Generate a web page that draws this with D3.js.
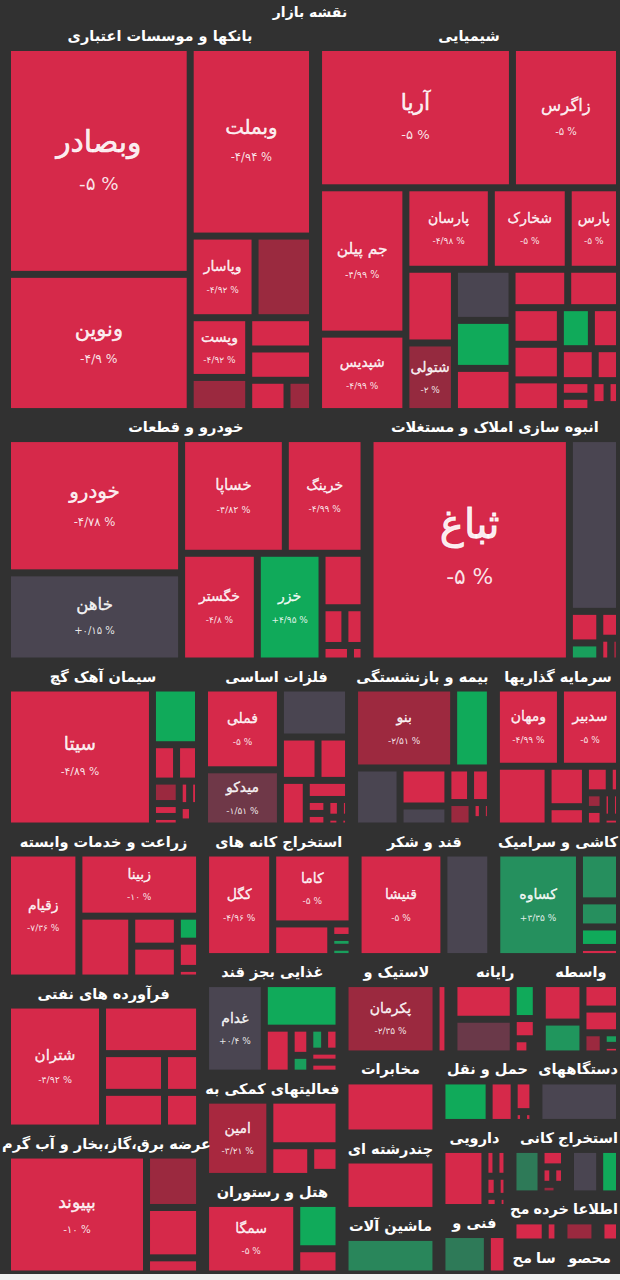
<!DOCTYPE html>
<html><head><meta charset="utf-8">
<script src="https://cdn.jsdelivr.net/npm/d3@7"></script>
<style>
html,body{margin:0;padding:0;background:#313131;}
svg{display:block;}
</style></head><body>
<svg id="chart" width="620" height="1280"></svg>
<script>
// ---------- DATA (name, change %, size) ----------
const title = "نقشه بازار";
const banks = [["وبصادر",-5,415],["ونوین",-4.9,251],["وبملت",-4.94,231],["وپاسار",-4.92,53],[null,-2.3,47],["وپست",-4.92,35],[null,-2.4,20],[null,-4.9,20],[null,-4.9,20],[null,-4.9,12],[null,-2.4,8]];
const chem = [["آریا",-5,273.5],["زاگرس",-5,151],["جم پیلن",-4.99,128.5],["شپدیس",-4.99,68],["پارسان",-4.98,70],["شخارک",-5,63],["پارس",-5,42],[null,-4.9,36],["شتولی",-2,33.5],[null,0.1,29.6],[null,4.9,27.8],[null,-4.9,25],[null,-4.9,21.5],[null,-4.9,20],[null,-4.9,17.8],[null,-4.9,17.3],[null,-4.9,15.4],[null,4.9,12.8],[null,-4.9,11.6],[null,-4.9,11.2],[null,-4.9,7.8],[null,-4.9,4.8],[null,-4.9,4.7],[null,-4.9,3.9],[null,-4.9,3],[null,-4.9,2]];
const khodro = [["خودرو",-4.78,233],["خاهن",0.15,153],["خساپا",-4.82,118.6],["خرینگ",-4.99,90],["خگستر",-4.8,81.3],["خزر",4.95,69.5],[null,-4.9,22.8],[null,-4.9,8.6],[null,-4.9,7.2],[null,-4.9,4.4],[null,-4.9,2.1]];
const omran = [["ثباغ",-5,444],[null,0.2,86.7],[null,-4.9,9.6],[null,4,5.5],[null,-4.9,5.3],[null,-4.9,2.5],[null,-2.4,2]];
const cement = [["سیتا",-4.89,203],[null,4.9,26.5],[null,-4.9,8.9],[null,-4.9,8.1],[null,-2.4,6.1],[null,-4.9,3.5],[null,-4.9,2.6],[null,-4.9,2.6],[null,-4.9,2.2],[null,-4.9,2.2],[null,-4.9,1],[null,-4.9,0.8]];
const metals = [["فملی",-5,64.7],["میدکو",-1.51,44.5],[null,0.1,34.8],[null,-4.9,17],[null,-4.9,13.8],[null,-4.9,12.3],[null,-4.9,8.4],[null,-4.9,3],[null,-4.9,2.7],[null,-4.9,2.5],[null,-4.9,1.5],[null,-4.9,1.2],[null,-4.9,0.8]];
const insurance = [["بنو",-2.51,81],[null,4.9,30],[null,0.1,27],[null,-4.9,18.6],[null,0.1,9.8],[null,-4.9,8],[null,-4.9,7],[null,-2.4,5.8],[null,-4.9,1.8],[null,-4.9,1.4],[null,-4.9,1.2]];
const invest = [["ومهان",-4.99,51.4],["سدبیر",-5,47.4],[null,-4.9,31.7],[null,-4.9,15.5],[null,-4.9,7.4],[null,-4.9,6.5],[null,-4.9,2.8],[null,-2.4,3],[null,-4.9,3],[null,-4.9,2.1],[null,-4.9,2],[null,-4.9,1.5]];
const agri = [["زقیام",-7.36,91.4],["زبینا",-10,78],[null,-4.9,33.5],[null,-4.9,14],[null,-4.9,14.9],[null,4.9,5.7],[null,-4.9,6.2],[null,-4.9,2.2]];
const petro = [["شتران",-4.92,117.8],[null,-4.9,47.5],[null,-4.9,24.2],[null,-4.9,22.3],[null,-4.9,13.7],[null,-4.9,12.6]];
const utility = [["بپیوند",-10,164],[null,-2.4,27.6],[null,-4.9,26.5],[null,-4.9,8.5]];
const mining = [["کگل",-4.96,70],["کاما",-5,56.7],[null,-4.9,19.1],[null,-4.9,2.9],[null,4,2.1],[null,4,2]];
const sugar = [["قنیشا",-5,88.6],[null,-0.2,48.4]];
const tile = [["کساوه",3.35,84.5],[null,3.3,18.9],[null,3.3,10.3],[null,4.9,8.1],[null,-4.9,3.6]];
const food = [["غدام",0.4,54],[null,4.9,34.2],[null,-4.9,12.4],[null,-4.9,5.2],[null,4,3.4],[null,4,3.5],[null,-4.9,3.4],[null,-4.9,3.3],[null,-4.9,3.3]];
const support = [["امین",-3.21,50.8],[null,-4.9,32.7],[null,-4.9,13],[null,-4.9,7.8],[null,-4.9,0.6],[null,-4.9,0.6]];
const hotel = [["سمگا",-5,65.1],[null,4.9,19.4],[null,-4.9,10.8]];
const rubber = [["پکرمان",-2.35,64.4],[null,-4.9,8.4]];
const computer = [[null,-4.9,21.8],[null,-1.4,21.2],[null,4.9,8.3],[null,-4.9,4.8],[null,-4.9,2.6],[null,-4.9,1]];
const broker = [[null,-4.9,16.8],[null,3.6,13.9],[null,-4.9,10],[null,-4.9,9.3],[null,-2.4,4.6],[null,4,2.2],[null,-4.9,1.5]];
const telecom = [[null,-4.9,1]];
const multi = [[null,-4.9,1]];
const machinery = [[null,3,1]];
const transport = [[null,4.9,19.4],[null,-4.9,10.3],[null,-4.9,5.7],[null,-4.9,1],[null,-4.9,1]];
const devices = [[null,0,1]];
const pharma = [[null,-4.9,25.4],[null,-4.9,3],[null,-4.9,3],[null,-4.9,2.5],[null,-4.9,2],[null,-4.9,1.5],[null,-4.9,1]];
const engineering = [[null,2.6,17.6],[null,-4.9,7.6]];
const mineral = [[null,2.6,12.2],[null,-4.9,4],[null,-4.9,2],[null,-4.9,2],[null,-2.4,1.5],[null,4,0.7]];
const extraction = [[null,0,14],[null,4.9,9.5]];
const tinyA = [[null,-4.9,3.3],[null,-4.9,1.3]];
const tinyB = [[null,-2.4,1]];
const tinyC = [[null,-4.9,1]];
const tinyD = [[null,-4.9,1]];
const tinyE = [[null,-4.9,1]];
const tinyF = [[null,4,1]];

const sectorNames = ["بانکها و موسسات اعتباری","شیمیایی","خودرو و قطعات","انبوه سازی املاک و مستغلات","سیمان آهک گچ","فلزات اساسی","بیمه و بازنشستگی","سرمایه گذاریها","زراعت و خدمات وابسته","فرآورده های نفتی","عرضه برق،گاز،بخار و آب گرم","استخراج کانه های","قند و شکر","کاشی و سرامیک","غذایی بجز قند","فعالیتهای کمکی به","هتل و رستوران","لاستیک و","رایانه","واسطه","مخابرات","چندرشته ای","ماشین آلات","حمل و نقل","دستگاههای","دارویی","فنی و","کانی","استخراج","مح","خرده","اطلاعا","مح","سا","محصو"];
const sectorSizes = [1216,1200,904,637,325,247.5,234,213,301,297,289,199,181,168,162.5,144,136,106,86,81,76.6,75,61.6,66.4,59.3,60.4,47.2,41.1,39.3,24.5,17.8,11.8,8,7,21];
const sectorStocks = [banks,chem,khodro,omran,cement,metals,insurance,invest,agri,petro,utility,mining,sugar,tile,food,support,hotel,rubber,computer,broker,telecom,multi,machinery,transport,devices,pharma,engineering,mineral,extraction,tinyA,tinyB,tinyC,tinyD,tinyE,tinyF];

// ---------- LAYOUT ORDER (strip order: r = row, c = column, with item counts) ----------
const topStrips = ["r2","r2","r4","c3","r3","c3","r3","c3","r2","c2","r2","r3","r3"];
const sectorStrips = [
  ["c2","r1","r2","c2","r1","r1","r2"],
  ["r2","c2","r3","c2","c3","r2","c3","r2","r2"],
  ["c2","r2","c1","c1","r1","r2"],
  ["c1","r1","c2"],
  ["c1","r1","r2"],
  ["c2","r1","r2","c1","r1"],
  ["r2","c1","c2","r2"],
  ["r2","c1","c2","r2"],
  ["c1","r1","c1","c2","r1","r1","r1"],
  ["c1","r1","c2","c2"],
  ["c1","c3"],
  ["c1","r1","c1","r1","c2"],
  ["c1","c1"],
  ["c1","r1","r1","c2"],
  ["c1","r1","c1","c2","r2","r1","r1"],
  ["c1","r1","c1","r1"],
  ["c1","c2"],
  ["c1","c1"],
  ["c2","r1","r1","r2"],
  ["c2","r1","r1","c1","r1","r1"],
  [],[],[],
  ["c1","c1","r1"],
  [],
  ["c1"],
  ["c1","c1"],
  ["c1","r1"],
  ["c1","c1"],
  ["c1","c1"],[],[],[],[],[]
];

// ---------- HELPERS ----------
function stripTile(spec) {
  return (parent, x0, y0, x1, y1) => {
    const kids = parent.children;
    let value = parent.value, i = 0;
    for (const s of spec) {
      if (i >= kids.length) break;
      const dir = s[0], n = +s.slice(1);
      const group = kids.slice(i, i + n);
      const sum = d3.sum(group, d => d.value);
      const row = {children: group, value: sum};
      if (dir === "r") { const y = y0 + (y1 - y0) * sum / value; d3.treemapDice(row, x0, y0, x1, y); y0 = y; }
      else { const x = x0 + (x1 - x0) * sum / value; d3.treemapSlice(row, x0, y0, x, y1); x0 = x; }
      value -= sum; i += n;
    }
    if (i < kids.length) {
      const rest = kids.slice(i);
      d3.treemapSquarify({children: rest, value: d3.sum(rest, d => d.value)}, x0, y0, x1, y1);
    }
  };
}
const faDigits = "۰۱۲۳۴۵۶۷۸۹";
function fa(v) {
  const s = (Math.round(Math.abs(v) * 100) / 100).toString().replace(".", "/").replace(/\d/g, d => faDigits[d]);
  return (v < 0 ? "-" : "+") + s + " %";
}
const color = d3.scaleLinear()
  .domain([-4.5, -3.2, -2, -1.5, -0.5, 0.5, 2.6, 3.35, 4.5])
  .range(["#d6294a", "#a8283f", "#952a3f", "#6e3848", "#4a4551", "#4a4551", "#2e7a58", "#25905e", "#10aa5a"])
  .clamp(true);
const nameSize = d3.scaleLinear().domain([90, 140, 165, 196, 204]).range([14, 19, 23, 29, 41]).clamp(true);
const pctSize = d3.scaleLinear().domain([90, 140, 165, 196, 204]).range([9, 11, 14, 18, 22]).clamp(true);

// ---------- DRAW ----------
const W = 620, H = 1280;
const svg = d3.select("#chart");
const FONT = "DejaVu Sans";
svg.append("rect").attr("width", W).attr("height", H).attr("fill", "#313131");

svg.append("text").attr("x", 310).attr("y", 12).attr("text-anchor", "middle").attr("dominant-baseline", "central")
  .attr("font-family", FONT).attr("font-weight", "bold").attr("font-size", 14).attr("fill", "#fff").text(title);

const OX = 4.5, OY = 23.5, TW = 618, TH = 1253.5;
const sectors = sectorNames.map((name, i) => ({name, size: sectorSizes[i], stocks: sectorStocks[i], strips: sectorStrips[i]}));
const topRoot = d3.hierarchy({children: sectors}).sum(d => d.children ? 0 : d.size);
d3.treemap().size([TW, TH]).tile(stripTile(topStrips))(topRoot);

const gCells = svg.append("g"), gHead = svg.append("g"), gLab = svg.append("g");
const heads = [];

topRoot.leaves().forEach(sec => {
  const sx0 = OX + sec.x0, sy0 = OY + sec.y0, sx1 = OX + sec.x1, sy1 = OY + sec.y1;
  const t = gHead.append("text").attr("x", (sx0 + sx1) / 2).attr("y", sy0 + 12.5)
    .attr("text-anchor", "middle").attr("dominant-baseline", "central")
    .attr("font-family", FONT).attr("font-weight", "bold").attr("font-size", 14.5)
    .attr("fill", "#fff").text(sec.data.name);
  heads.push({t, cx: (sx0 + sx1) / 2, y: sy0 + 12.5, w: t.node().getComputedTextLength()});
  const w = (sx1 - sx0) - 13, h = (sy1 - sy0) - 34;
  if (w <= 0 || h <= 0) return;
  const root = d3.hierarchy({children: sec.data.stocks.map(([name, pct, v]) => ({name, pct, v}))})
    .sum(d => d.v || 0);
  d3.treemap().size([w, h]).paddingInner(7).tile(stripTile(sec.data.strips))(root);
  const cx = sx0 + 6.5, cy = sy0 + 27.5;
  root.leaves().forEach(leaf => {
    const x = cx + leaf.x0, y = cy + leaf.y0, lw = leaf.x1 - leaf.x0, lh = leaf.y1 - leaf.y0;
    if (lw < 0.5 || lh < 0.5) return;
    gCells.append("rect").attr("x", x).attr("y", y).attr("width", lw).attr("height", lh)
      .attr("fill", color(leaf.data.pct));
    if (leaf.data.name) {
      const s = Math.sqrt(lw * lh), fs = nameSize(s), ps = pctSize(s);
      const mx = x + lw / 2, my = y + lh / 2;
      gLab.append("text").attr("x", mx).attr("y", my - (0.55 * fs + 3))
        .attr("text-anchor", "middle").attr("dominant-baseline", "central")
        .attr("font-family", FONT).attr("font-size", fs)
        .attr("fill", "#fff").attr("fill-opacity", 0.93)
        .attr("stroke", "#fff").attr("stroke-opacity", 0.9).attr("stroke-width", Math.max(0.35, fs * 0.022))
        .text(leaf.data.name);
      gLab.append("text").attr("x", mx).attr("y", my + (0.5 * ps + 0.3 * fs + 4))
        .attr("text-anchor", "middle").attr("dominant-baseline", "central").attr("direction", "ltr")
        .attr("font-family", FONT).attr("font-size", ps).attr("fill", "#fff").attr("fill-opacity", 0.88)
        .text(fa(leaf.data.pct));
    }
  });
});

// keep sector titles inside the picture and apart from each other on the same line
const lines = d3.groups(heads, h => Math.round(h.y / 4));
lines.forEach(([, hs]) => {
  hs.sort((a, b) => b.cx - a.cx);
  let limit = W - 2;
  hs.forEach(h => {
    let right = Math.min(h.cx + h.w / 2, limit);
    let left = right - h.w;
    if (left < 2) { left = 2; right = left + h.w; }
    h.t.attr("x", (left + right) / 2);
    limit = left - 4;
  });
});
svg.append("rect").attr("x", 0).attr("y", 1274).attr("width", W).attr("height", 6).attr("fill", "#f0f0f0");
</script></body></html>
